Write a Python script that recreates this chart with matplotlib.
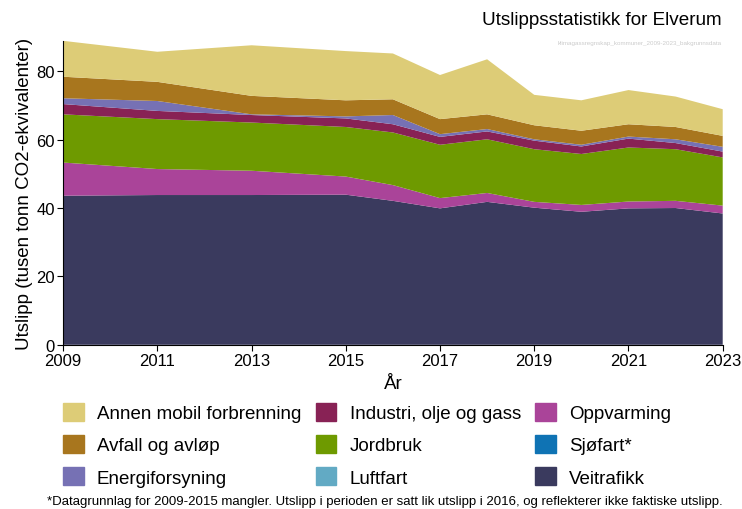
import numpy as np
import matplotlib.pyplot as plt

plt.rcParams['font.family'] = ['Liberation Sans', 'DejaVu Sans']

years = [2009, 2011, 2013, 2015, 2016, 2017, 2018, 2019, 2020, 2021, 2022, 2023]

# values per sector (tusen tonn CO2-ekv)
veitrafikk = [43.6, 43.8, 43.8, 43.9, 42.1, 39.9, 41.8, 40.1, 38.9, 39.9, 40.0, 38.4]
sjofart = [0, 0, 0, 0, 0, 0, 0, 0, 0, 0, 0, 0]
oppvarming = [9.7, 7.6, 7.1, 5.3, 4.6, 3.0, 2.6, 1.7, 2.0, 2.0, 2.1, 2.3]
luftfart = [0, 0, 0, 0, 0, 0, 0, 0, 0, 0, 0, 0]
jordbruk = [14.1, 14.6, 14.1, 14.5, 15.4, 15.6, 15.7, 15.4, 14.9, 15.8, 15.1, 14.1]
industri = [3.0, 2.4, 2.2, 2.5, 2.4, 2.3, 2.3, 2.5, 2.2, 2.6, 1.8, 1.7]
energi = [1.7, 2.9, 0.2, 0.6, 2.7, 0.8, 0.7, 0.4, 0.5, 0.6, 1.1, 1.4]
avfall = [6.3, 5.6, 5.4, 4.7, 4.6, 4.4, 4.3, 4.1, 4.1, 3.6, 3.6, 3.2]
annen = [10.5, 8.8, 14.8, 14.4, 13.4, 12.9, 16.1, 8.9, 8.9, 10.0, 8.9, 7.8]

labels = ['Annen mobil forbrenning', 'Avfall og avløp', 'Energiforsyning',
          'Industri, olje og gass', 'Jordbruk', 'Luftfart',
          'Oppvarming', 'Sjøfart*', 'Veitrafikk']
colors = ['#DDCC77', '#A8761E', '#7671B4', '#882255', '#6E9A00', '#62AAC4',
          '#AA4499', '#0F73B4', '#3A3A5E']
series = [annen, avfall, energi, industri, jordbruk, luftfart, oppvarming, sjofart, veitrafikk]

fig = plt.figure(figsize=(7.42, 5.10), dpi=100)
ax = fig.add_axes([0.085, 0.322, 0.889, 0.596])

# stack from bottom: Veitrafikk first
ax.stackplot(years, *series[::-1], colors=colors[::-1], labels=labels[::-1], linewidth=0)

totals = np.sum(np.array(series), axis=0)
ax.set_xlim(2009, 2023)
ax.set_ylim(0, totals.max())
ax.set_xticks(range(2009, 2024, 2))
ax.set_yticks([0, 20, 40, 60, 80])
ax.tick_params(labelsize=12, length=4, pad=2, direction='out', colors='black')
ax.spines['top'].set_visible(False)
ax.spines['right'].set_visible(False)
ax.set_xlabel('År', fontsize=13.5, labelpad=5)
ax.set_ylabel('Utslipp (tusen tonn CO2-ekvivalenter)', fontsize=13.5, labelpad=2)

fig.text(0.973, 0.96, 'Utslippsstatistikk for Elverum', ha='right', va='center', fontsize=13.6)
fig.text(0.973, 0.915, 'klimagassregnskap_kommuner_2009-2023_bakgrunnsdata', ha='right',
         va='center', fontsize=4.5, color='#cccccc')

handles = [plt.Rectangle((0, 0), 1, 1, color=c) for c in colors]
fig.legend(handles, labels, ncol=3, loc='upper left', bbox_to_anchor=(0.085, 0.208),
           frameon=False, fontsize=13.5, handlelength=1.1, handleheight=1.1,
           columnspacing=0.78, labelspacing=0.68, handletextpad=0.7, borderaxespad=0,
           borderpad=0)

fig.text(0.519, 0.003, '*Datagrunnlag for 2009-2015 mangler. Utslipp i perioden er satt lik utslipp i 2016, '
         'og reflekterer ikke faktiske utslipp.', ha='center', va='bottom', fontsize=9.5)

fig.savefig('out.png', dpi=100)
